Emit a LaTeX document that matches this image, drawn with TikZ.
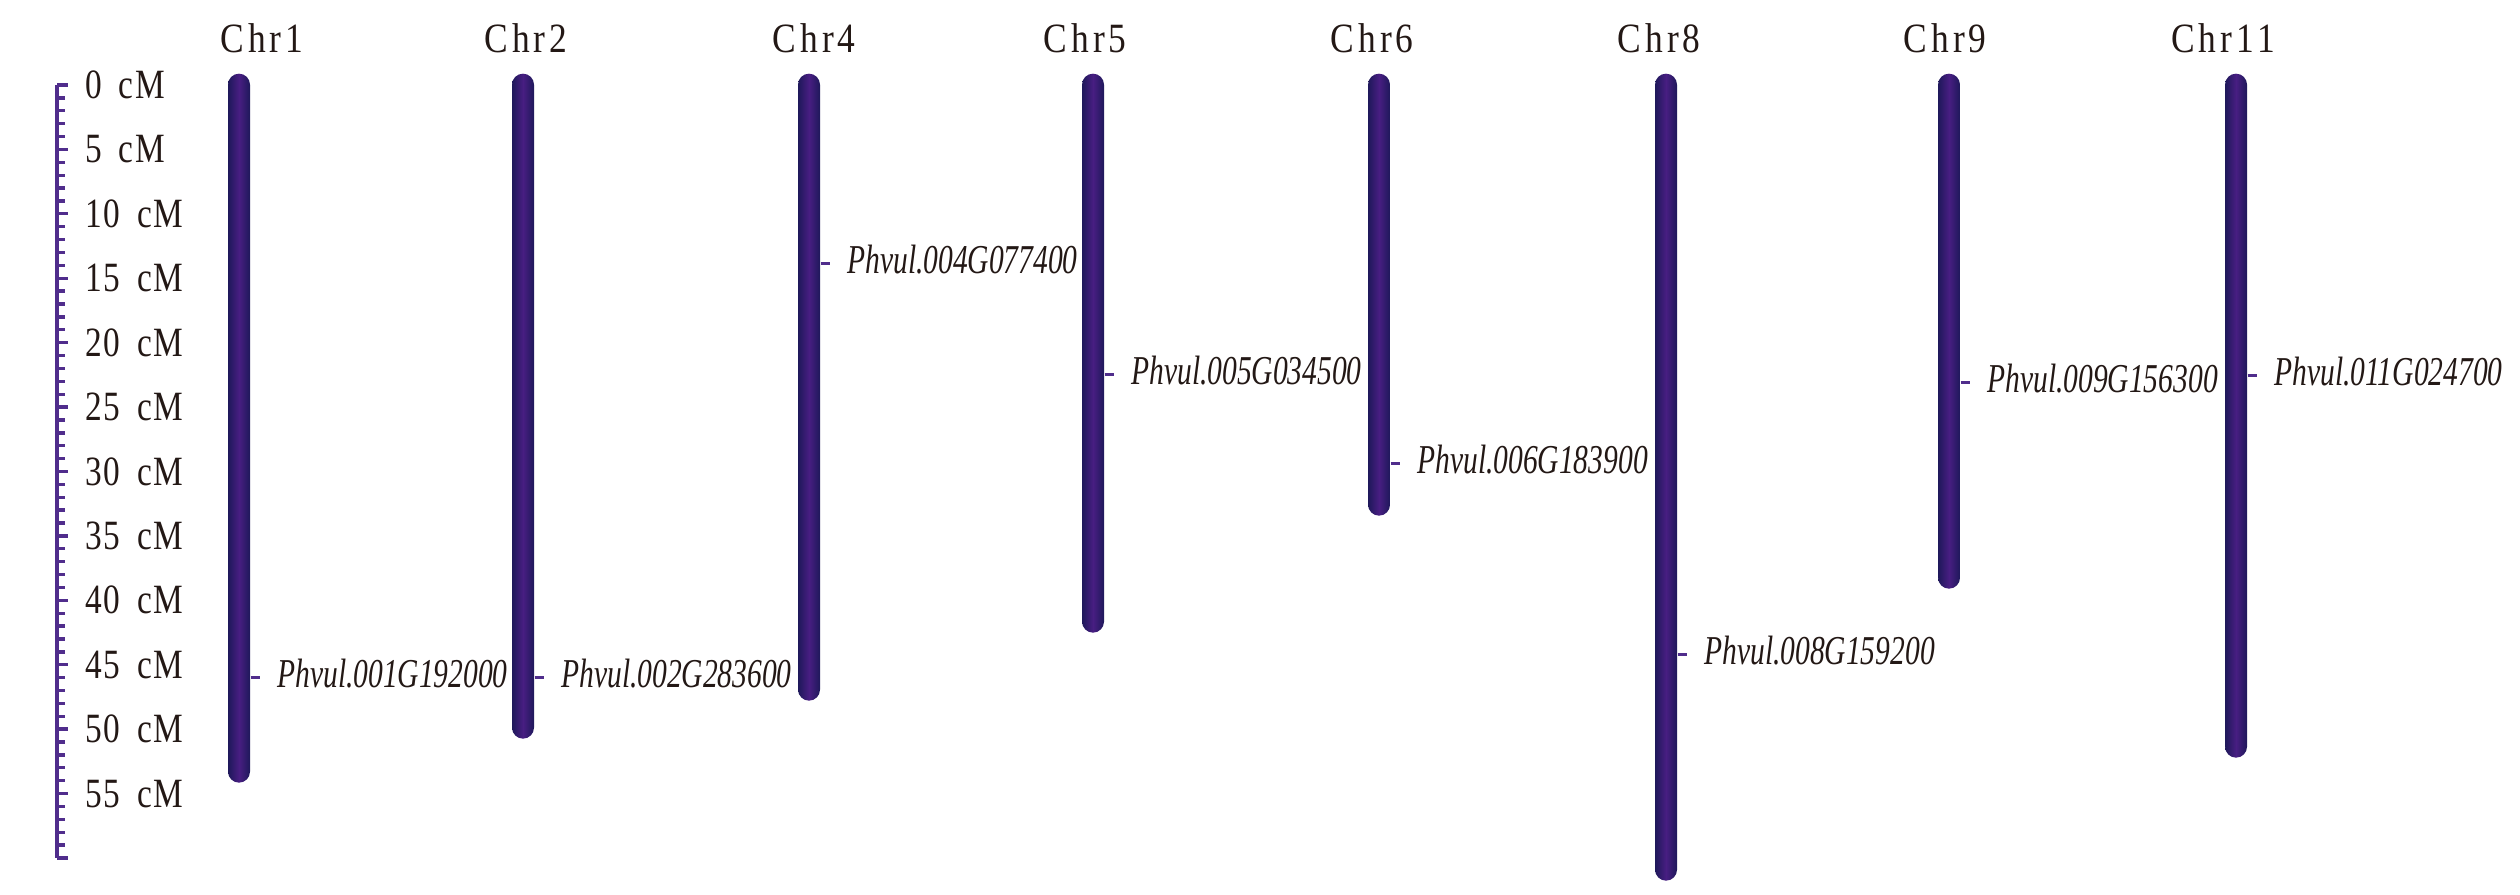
\documentclass[tikz,border=0pt]{standalone}
\usepackage{fontspec}
\setmainfont{Liberation Serif}
\newfontfamily\genefont[FakeStretch=0.72]{Liberation Serif}
\newfontfamily\axfont[FakeStretch=0.8,LetterSpace=4]{Liberation Serif}
\newfontfamily\titfont[FakeStretch=0.85,LetterSpace=10]{Liberation Serif}
\definecolor{txt}{RGB}{35,24,21}
\definecolor{axcol}{RGB}{80,45,140}
\definecolor{chrdark}{RGB}{30,24,90}
\definecolor{chrmid}{RGB}{72,30,130}
\tikzset{
  axisline/.style={axcol, line width=1pt},
  chrom/.style={rectangle, rounded corners=3.3pt, minimum width=6.6pt, inner sep=0pt,
    left color=chrdark, right color=chrdark, middle color=chrmid},
  marktick/.style={axcol, line width=0.9pt},
  ctitle/.style={txt, font=\titfont\fontsize{12.5pt}{14pt}\selectfont, inner sep=0pt},
  axlab/.style={txt, font=\axfont\fontsize{12.5pt}{14pt}\selectfont, inner sep=0pt, anchor=west},
  gene/.style={txt, font=\genefont\itshape\fontsize{12.3pt}{14pt}\selectfont, inner sep=0pt, anchor=west}
}
\begin{document}
\begin{tikzpicture}[x=0.3pt, y=-0.3pt]
\useasboundingbox (0,0) rectangle (2520,894);
% scale axis
\draw[axisline] (57,85) -- (57,858);
\foreach \i in {0,...,60} {
  \draw[axisline] (57,{85+\i*12.883}) -- ++(8,0);
}
\foreach \i in {0,5,...,60} {
  \draw[axisline] (57,{85+\i*12.883}) -- ++(11,0);
}
\foreach \v in {0,5,...,55} {
  \node[axlab] (lab\v) at (85,{85+\v*12.883}) {\v\hspace{5pt}cM};
}
% chromosomes
\foreach \n/\x/\b/\tx in {1/239/782/262, 2/523/738/526, 4/809/700/814, 5/1093/632/1085,
                          6/1379/515/1372, 8/1666/880/1659, 9/1949/588/1945, 11/2236/757/2223} {
  \pgfmathsetmacro\hh{(\b-73)*0.3}
  \node[chrom, anchor=north, minimum height=\hh pt] (chr\n) at (\x,73) {};
  \node[ctitle] (t\n) at (\tx,38) {Chr\n};
}
% markers
\foreach \n/\y/\g in {1/677/Phvul.001G192000, 2/677/Phvul.002G283600, 4/263/Phvul.004G077400,
                      5/374/Phvul.005G034500, 6/463/Phvul.006G183900, 8/654/Phvul.008G159200,
                      9/382/Phvul.009G156300, 11/375/Phvul.011G024700} {
  \draw[marktick] (chr\n.east |- 0,\y) -- ++(9,0) coordinate (m\n);
  \path (chr\n.east |- 0,\y) ++(26,-3) node[gene] (g\n) {\g};
}
\end{tikzpicture}
\end{document}
